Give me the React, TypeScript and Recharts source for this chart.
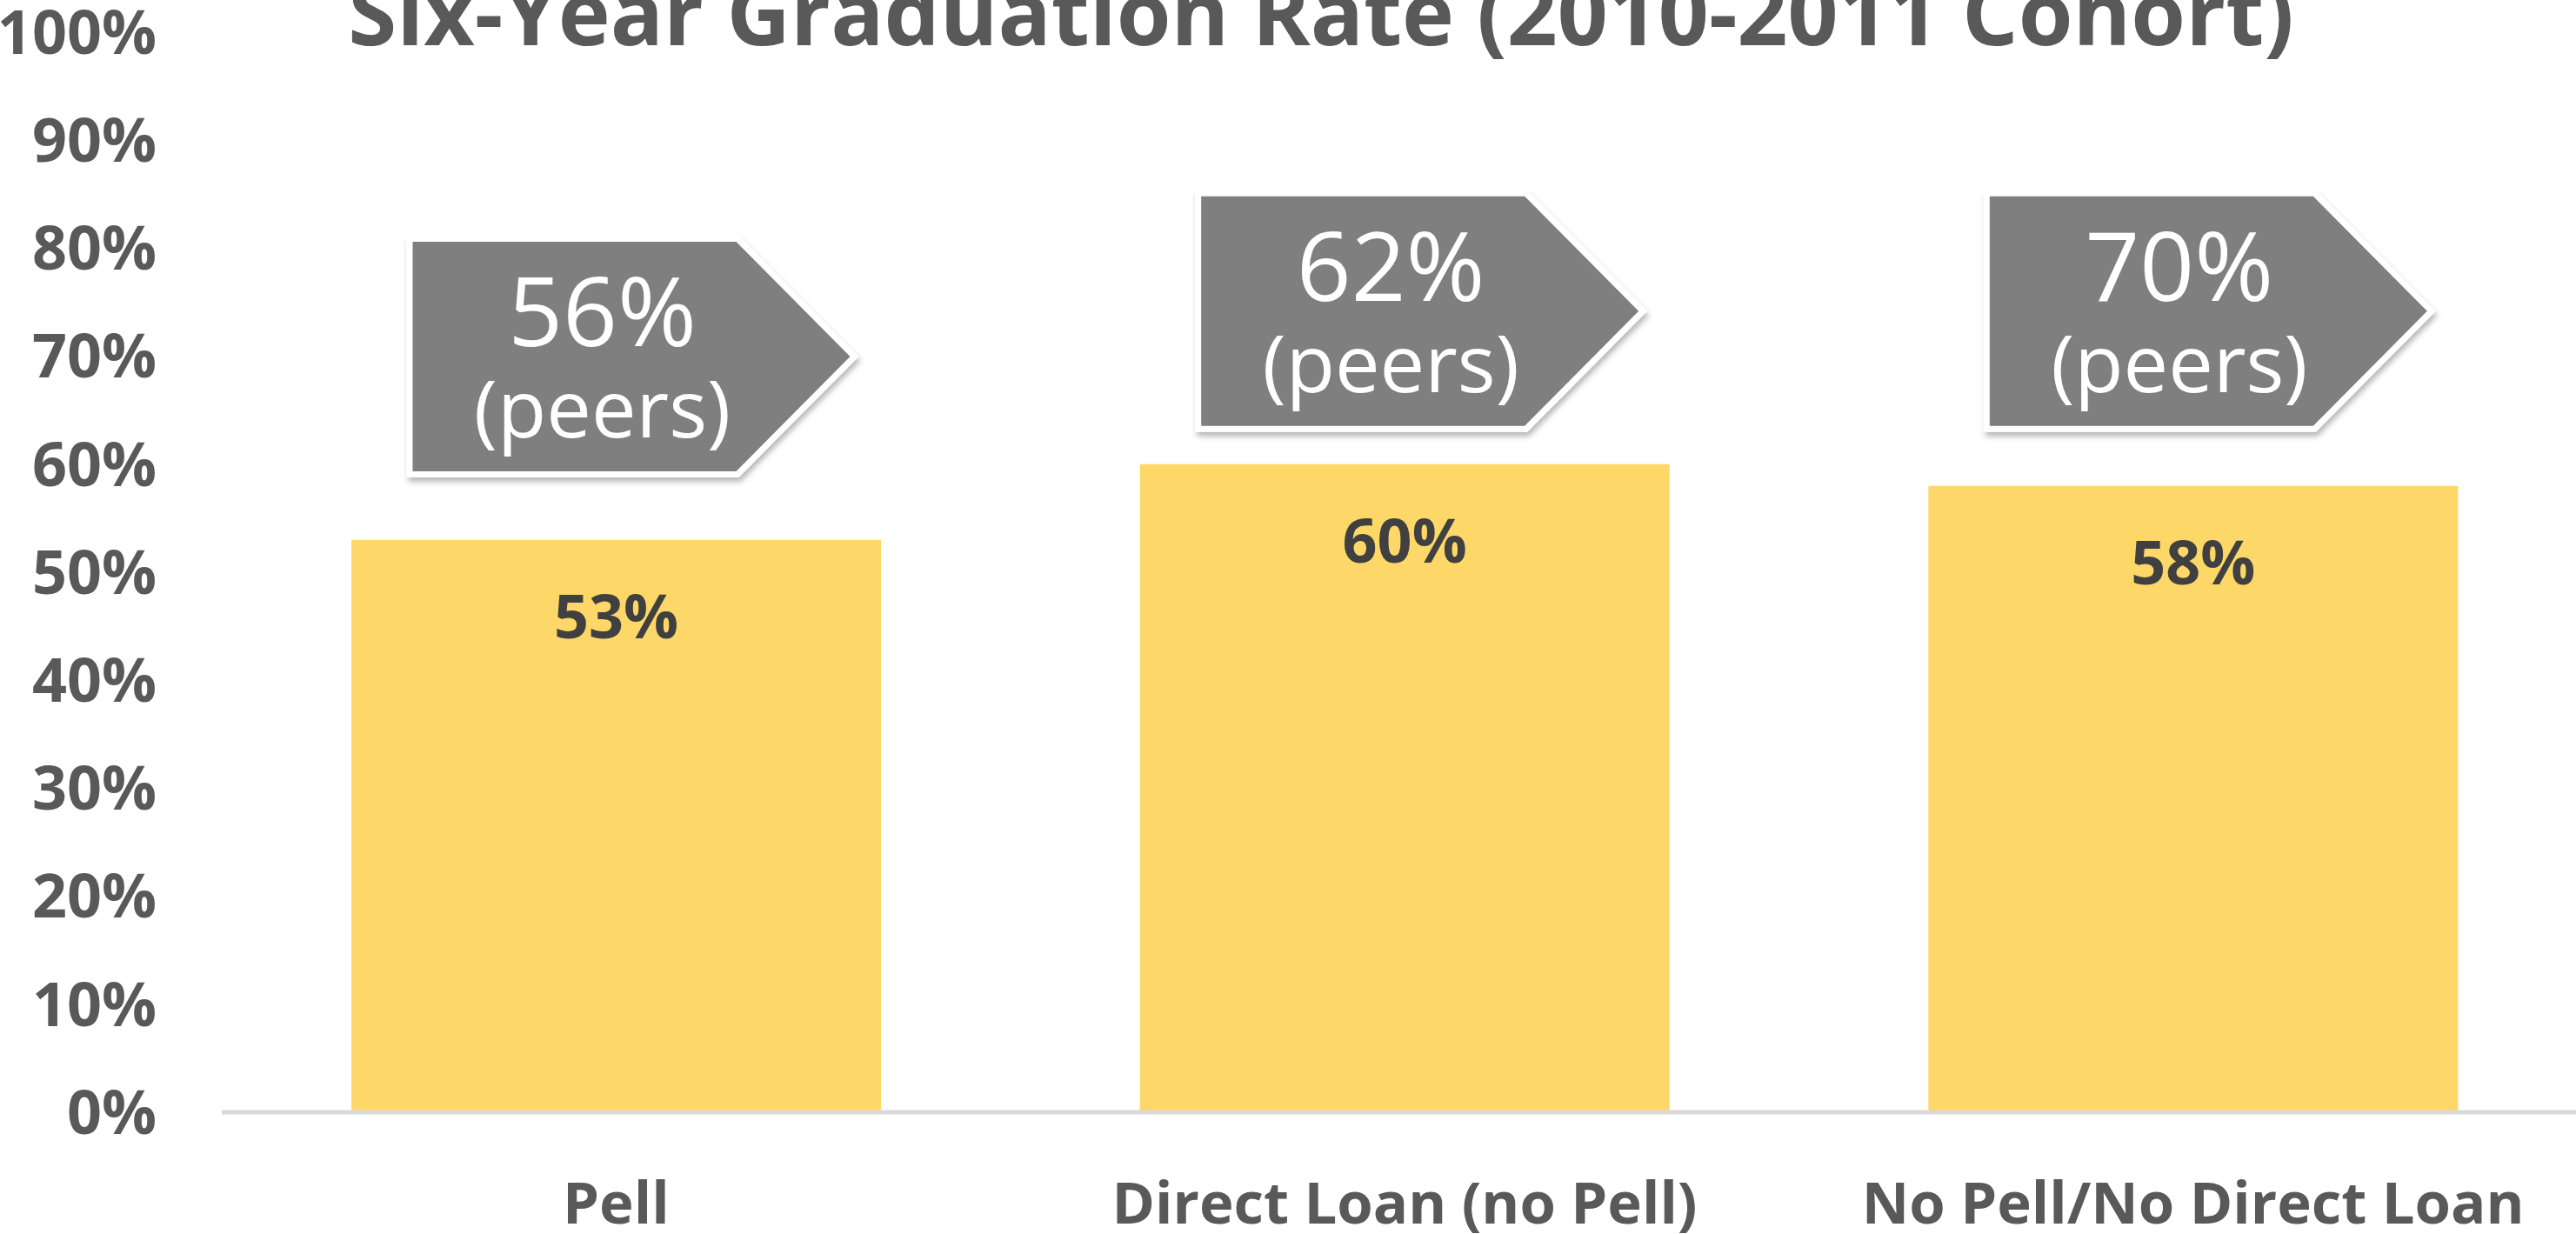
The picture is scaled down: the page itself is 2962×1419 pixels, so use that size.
import React from 'react';
import { BarChart, Bar, XAxis, YAxis, LabelList } from 'recharts';

// ---- data ----
const categories = ['Pell', 'Direct Loan (no Pell)', 'No Pell/No Direct Loan'];
const gradRates = [53, 60, 58];
const peerRates = [56, 62, 70];
const yTicks = [0, 10, 20, 30, 40, 50, 60, 70, 80, 90, 100];
const titleText = 'Six-Year Graduation Rate (2010-2011 Cohort)';
const peerNote = '(peers)';

// ---- layout (callout top edge, in axis units) ----
const calloutTop = [80.6, 84.8, 84.8];

const data = categories.map((name, i) => ({ name, rate: gradRates[i], peer: peerRates[i] }));

const FONT = "'Open Sans', 'Noto Sans', sans-serif";
const GREY_TEXT = '#595959';

const getBox = (props: any) => {
  const vb = props.viewBox && typeof props.viewBox.x === 'number' ? props.viewBox : props;
  return { x: Number(vb.x), y: Number(vb.y), width: Number(vb.width), height: Number(vb.height) };
};

const ValueLabel = (props: any) => {
  const { x, y, width } = getBox(props);
  return (
    <text
      x={x + width / 2}
      y={y + 113}
      textAnchor="middle"
      fill="#404040"
      fontFamily={FONT}
      fontWeight={700}
      fontSize={70}
    >
      {`${props.value}%`}
    </text>
  );
};

const Callout = (props: any) => {
  const { x, y, width, height } = getBox(props);
  const index: number = props.index ?? 0;
  const base = y + height;
  const pxPerUnit = height / gradRates[index];
  const top = base - calloutTop[index] * pxPerUnit;
  const cx = x + width / 2;
  const L = cx - 234;
  const bodyW = 372;
  const tip = 131;
  const h = 264;
  const pts = `${L},${top} ${L + bodyW},${top} ${L + bodyW + tip},${top + h / 2} ${L + bodyW},${top + h} ${L},${top + h}`;
  const fid = `callout-shadow-${index}`;
  return (
    <g>
      <defs>
        <filter id={fid} x="-10%" y="-10%" width="130%" height="140%">
          <feDropShadow dx="2" dy="5" stdDeviation="3" floodColor="#000" floodOpacity="0.28" />
        </filter>
      </defs>
      <polygon points={pts} fill="#FFFFFF" stroke="#FFFFFF" strokeWidth={14} strokeLinejoin="miter" filter={`url(#${fid})`} />
      <polygon points={pts} fill="#7F7F7F" />
      <text x={L + 218} y={top + 120} textAnchor="middle" fill="#FFFFFF" fontFamily={FONT} fontSize={110}>
        {`${props.value}%`}
      </text>
      <text x={L + 218} y={top + 225} textAnchor="middle" fill="#FFFFFF" fontFamily={FONT} fontSize={92}>
        {peerNote}
      </text>
    </g>
  );
};

export default function App() {
  return (
    <div style={{ position: 'absolute', left: 0, top: 0, width: 2962, height: 1419, overflow: 'hidden', background: '#fff' }}>
      <BarChart
        width={2975}
        height={1419}
        data={data}
        margin={{ top: 37, right: 0, bottom: 0, left: 0 }}
      >
        <XAxis
          dataKey="name"
          interval={0}
          axisLine={{ stroke: '#D9D9D9', strokeWidth: 5 }}
          tickLine={false}
          tickSize={0}
          tickMargin={80}
          height={140}
          tick={{ fill: GREY_TEXT, fontSize: 67, fontWeight: 700, fontFamily: FONT }}
        />
        <YAxis
          domain={[0, 100]}
          ticks={yTicks}
          interval={0}
          tickFormatter={(v: number) => `${v}%`}
          axisLine={false}
          tickLine={false}
          tickSize={0}
          tickMargin={75}
          width={255}
          tick={{ fill: GREY_TEXT, fontSize: 70, fontWeight: 700, fontFamily: FONT }}
        />
        <Bar dataKey="rate" fill="#FDD767" barSize={609} isAnimationActive={false}>
          <LabelList dataKey="rate" content={ValueLabel} />
          <LabelList dataKey="peer" content={Callout} />
        </Bar>
      </BarChart>
      <svg
        width={2962}
        height={200}
        style={{ position: 'absolute', left: 0, top: 0, pointerEvents: 'none' }}
      >
        <text x={1519} y={52} textAnchor="middle" fill={GREY_TEXT} fontFamily={FONT} fontWeight={700} fontSize={101.5}>
          {titleText}
        </text>
      </svg>
    </div>
  );
}
